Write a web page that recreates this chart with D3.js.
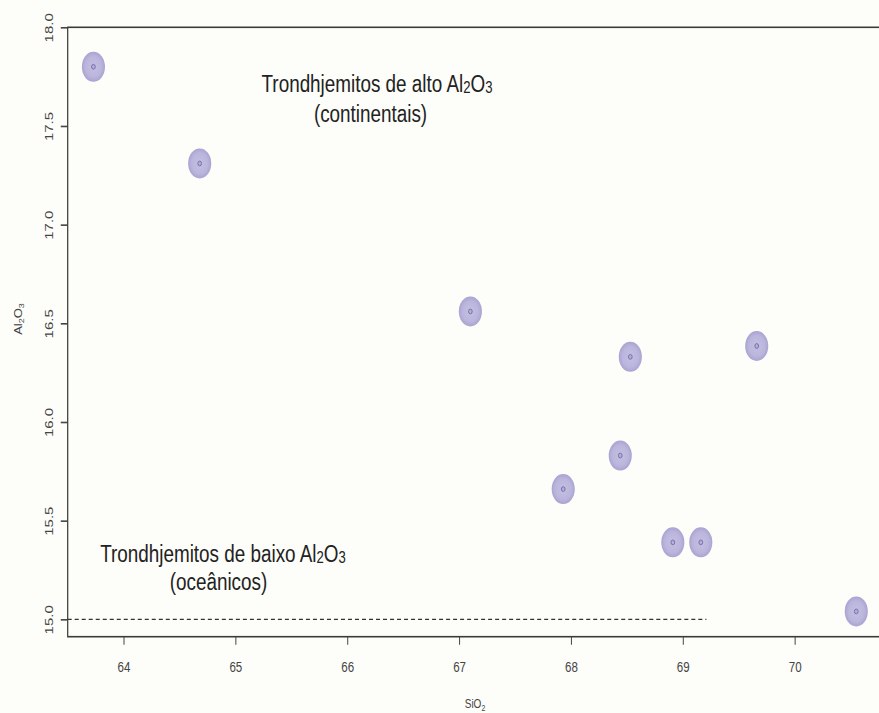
<!DOCTYPE html>
<html>
<head>
<meta charset="utf-8">
<script src="https://cdn.jsdelivr.net/npm/d3@7/dist/d3.min.js"></script>
<style>
  html, body { margin: 0; padding: 0; background: #fdfdf9; }
  svg { display: block; }
  text { font-family: "Liberation Sans", Arial, sans-serif; }
</style>
</head>
<body>
<svg id="chart" width="879" height="713"></svg>
<script>
// SiO2 (wt%) and Al2O3 (wt%) of the trondhjemite samples
const sio2  = [63.73, 64.68, 67.10, 68.53, 69.66, 68.44, 67.93, 68.91, 69.16, 70.55];
const al2o3 = [17.80, 17.31, 16.56, 16.33, 16.385, 15.83, 15.66, 15.39, 15.39, 15.04];

// Axis ticks
const xTicks = [64, 65, 66, 67, 68, 69, 70];
const yTicks = [15.0, 15.5, 16.0, 16.5, 17.0, 17.5, 18.0];

// Boundary between high- and low-Al2O3 trondhjemites
const boundaryAl2O3 = 15.0;
const boundarySiO2 = [63.5, 69.21];

// The figure is drawn in a frame that is compressed horizontally
const SX = 0.77;
const W = 879, H = 713;

const svg = d3.select("#chart");
svg.append("rect").attr("width", W).attr("height", H).attr("fill", "#fdfdf9");

const defs = svg.append("defs");
const grad = defs.append("radialGradient").attr("id", "ptFill");
grad.append("stop").attr("offset", "0%").attr("stop-color", "#c4c0e1");
grad.append("stop").attr("offset", "70%").attr("stop-color", "#bab5dc");
grad.append("stop").attr("offset", "100%").attr("stop-color", "#a9a3d1");
defs.append("filter").attr("id", "soft")
  .attr("x", "-30%").attr("y", "-30%").attr("width", "160%").attr("height", "160%")
  .append("feGaussianBlur").attr("stdDeviation", 0.7);

const root = svg.append("g").attr("transform", `scale(${SX},1)`);

// Plot region edges in screen pixels
const plotLeft = 67.7, plotTop = 27.3, plotRight = 882, plotBottom = 636.7;

const x = d3.scaleLinear().domain([63.5, 70.78]).range([plotLeft / SX, plotRight / SX]);
const y = d3.scaleLinear().domain([14.912, 18.0]).range([plotBottom, plotTop]);

// Box
root.append("rect")
  .attr("x", x.range()[0]).attr("y", plotTop)
  .attr("width", x.range()[1] - x.range()[0]).attr("height", plotBottom - plotTop)
  .attr("fill", "none").attr("stroke", "#3a3a3a").attr("stroke-width", 1.6);

// X axis
const xAxis = root.append("g")
  .attr("transform", `translate(0,${plotBottom})`)
  .call(d3.axisBottom(x).tickValues(xTicks).tickSize(8).tickSizeOuter(0).tickFormat(d3.format("d")));
xAxis.select(".domain").remove();
xAxis.selectAll(".tick line").attr("stroke", "#444").attr("stroke-width", 1.3);
xAxis.selectAll(".tick text")
  .attr("y", 35).attr("dy", 0)
  .attr("font-size", 15).attr("fill", "#444")
  .attr("font-family", "Liberation Sans, Arial, sans-serif");

// Y axis
const yAxis = root.append("g")
  .attr("transform", `translate(${x.range()[0]},0)`)
  .call(d3.axisLeft(y).tickValues(yTicks).tickSize(9).tickSizeOuter(0).tickFormat(d3.format(".1f")));
yAxis.select(".domain").remove();
yAxis.selectAll(".tick line").attr("stroke", "#444").attr("stroke-width", 1.6);
yAxis.selectAll(".tick text")
  .attr("x", 0).attr("dy", 0)
  .attr("transform", "translate(-19,0) rotate(-90)")
  .attr("text-anchor", "middle")
  .attr("font-size", 15).attr("fill", "#444")
  .attr("font-family", "Liberation Sans, Arial, sans-serif");

// Boundary line
root.append("line")
  .attr("x1", x(boundarySiO2[0])).attr("x2", x(boundarySiO2[1]))
  .attr("y1", y(boundaryAl2O3)).attr("y2", y(boundaryAl2O3))
  .attr("stroke", "#333").attr("stroke-width", 1.1)
  .attr("stroke-dasharray", "5.2,3.9");

// Samples
const pts = root.append("g").attr("filter", "url(#soft)");
const data = sio2.map((s, i) => ({ s, a: al2o3[i] }));
pts.selectAll("circle.pt").data(data).join("circle")
  .attr("class", "pt")
  .attr("cx", d => x(d.s)).attr("cy", d => y(d.a)).attr("r", 15)
  .attr("fill", "url(#ptFill)");
pts.selectAll("circle.core").data(data).join("circle")
  .attr("class", "core")
  .attr("cx", d => x(d.s)).attr("cy", d => y(d.a)).attr("r", 2.4)
  .attr("fill", "#b3add8").attr("stroke", "#7168a6").attr("stroke-width", 1);

// Axis titles
const xt = root.append("text")
  .attr("x", 475 / SX).attr("y", 708)
  .attr("text-anchor", "middle").attr("font-size", 13).attr("fill", "#444");
xt.append("tspan").text("SiO");
xt.append("tspan").attr("font-size", 9).attr("dy", 3).text("2");

const yt = root.append("text")
  .attr("transform", `translate(${22 / SX},319) rotate(-90)`)
  .attr("text-anchor", "middle").attr("font-size", 13).attr("fill", "#444");
yt.append("tspan").text("Al");
yt.append("tspan").attr("font-size", 9).attr("dy", 3).text("2");
yt.append("tspan").attr("dy", -3).text("O");
yt.append("tspan").attr("font-size", 9).attr("dy", 3).text("3");

// Field labels
function fieldLabel(cx, baseline, main, withOxide) {
  const t = root.append("text")
    .attr("x", cx / SX).attr("y", baseline)
    .attr("text-anchor", "middle").attr("font-size", 24.5).attr("fill", "#222");
  t.append("tspan").text(main);
  if (withOxide) {
    t.append("tspan").attr("font-size", 17).attr("dy", 1).text("2");
    t.append("tspan").attr("dy", -1).text("O");
    t.append("tspan").attr("font-size", 17).attr("dy", 1).text("3");
  }
}
fieldLabel(377, 91.7, "Trondhjemitos de alto Al", true);
fieldLabel(370.5, 122, "(continentais)", false);
fieldLabel(223, 561.7, "Trondhjemitos de baixo Al", true);
fieldLabel(218.5, 590, "(oceânicos)", false);
</script>
</body>
</html>
